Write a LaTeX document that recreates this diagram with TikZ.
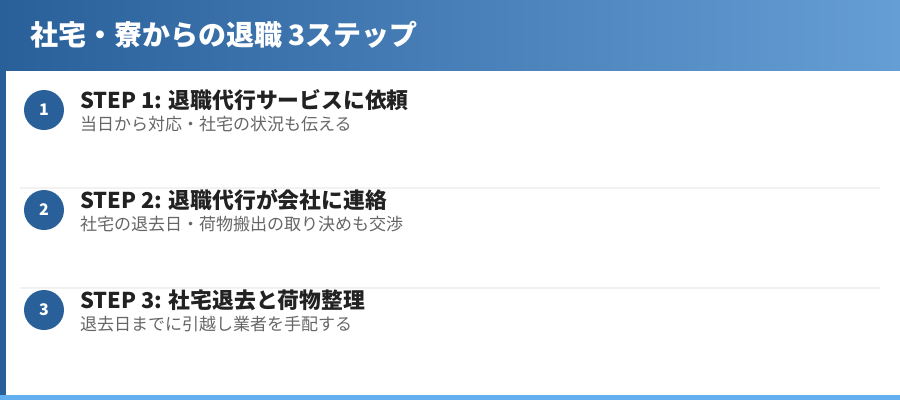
\documentclass[tikz,border=0pt]{standalone}
\usepackage{fontspec}
\setmainfont{Noto Sans CJK JP}
\definecolor{hdrL}{HTML}{2A6099}
\definecolor{hdrR}{HTML}{659DD5}
\definecolor{barB}{HTML}{63B0F0}
\definecolor{sepG}{HTML}{F2F2F2}
\definecolor{subG}{HTML}{666666}
\definecolor{headK}{HTML}{222222}
\tikzset{
  num/.style={circle,fill=hdrL,text=white,minimum size=40pt,inner sep=0pt,font=\bfseries\fontsize{16}{16}\selectfont},
  head/.style={anchor=west,inner sep=0pt,text=headK,font=\bfseries\fontsize{21.8}{22}\selectfont},
  sub/.style={anchor=west,inner sep=0pt,text=subG,font=\fontsize{17}{17}\selectfont},
  sepline/.style={sepG,line width=2pt}
}
\begin{document}
\begin{tikzpicture}[x=1pt,y=-1pt]
\useasboundingbox(0,0)rectangle(900,400);
\shade[left color=hdrL,right color=hdrR](0,0)rectangle(900,70);
\fill[hdrL](0,70)rectangle(6,395);
\fill[barB](0,395)rectangle(900,400);
\node[anchor=west,inner sep=0pt,text=white,font=\bfseries\fontsize{28}{28}\selectfont](title)at(30,35){社宅・寮からの退職 3ステップ};
\draw[sepline](20,188)--(880,188);
\draw[sepline](20,288)--(880,288);
\foreach \i/\y/\h/\s in {1/110/退職代行サービスに依頼/当日から対応・社宅の状況も伝える,
  2/210/退職代行が会社に連絡/社宅の退去日・荷物搬出の取り決めも交渉,
  3/310/社宅退去と荷物整理/退去日までに引越し業者を手配する}{
  \node[num](n\i)at(44,\y){\i};
  \node[head](t\i)at(80,\y-10){STEP \i: \h};
  \node[sub](s\i)at(80,\y+14){\s};
}
\end{tikzpicture}
\end{document}
